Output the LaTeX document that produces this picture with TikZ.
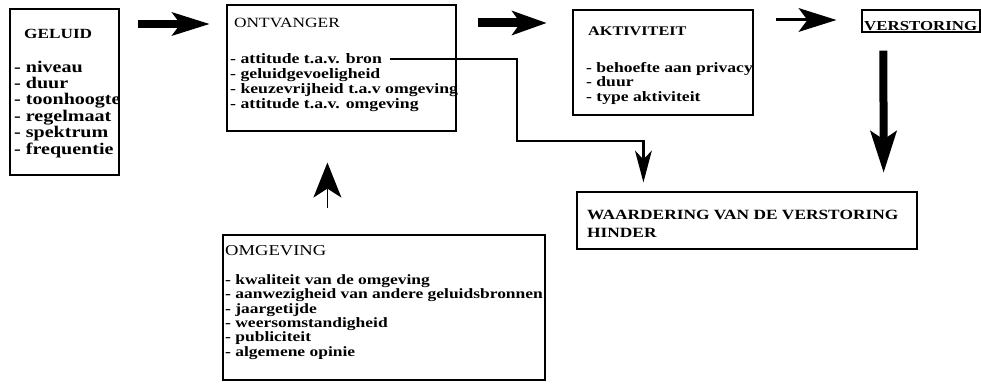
\documentclass[tikz,border=0pt]{standalone}
\usepackage{fontspec}
\setmainfont{Liberation Serif}[FakeStretch=1.23]
\usetikzlibrary{arrows.meta}
\newcommand{\firstline}[1]{\rule{0pt}{#1}}
\newcommand{\tightlines}{\lineskiplimit=-50pt\relax\lineskip=0pt\relax}
\begin{document}
\begin{tikzpicture}[x=1pt,y=-1pt,
  box/.style={draw, line width=1.2pt, rectangle, inner sep=0pt},
  txt/.style={anchor=base west, inner sep=0pt},
  block/.style={anchor=north west, inner sep=0pt, align=left},
  fatarrow/.style={line width=#1, -{Stealth[length=38pt,width=24pt,inset=9pt,line width=0pt]}},
  conn/.style={line width=2.5pt, -{Stealth[length=32pt,width=17pt,inset=9pt,line width=0pt]}},
]
\useasboundingbox (0,0) rectangle (981,390);

% boxes
\node[box, minimum width=109pt, minimum height=166pt] (geluid) at (64.5,92) {};
\node[box, minimum width=229pt, minimum height=126pt] (ontv) at (341.5,68) {};
\node[box, minimum width=180pt, minimum height=105pt] (akt) at (663,62.5) {};
\node[box, minimum width=118pt, minimum height=22pt] (verst) at (921,21) {};
\node[box, minimum width=340pt, minimum height=57pt] (waard) at (747,220.5) {};
\node[box, minimum width=322pt, minimum height=145pt] (omg) at (384,307.5) {};

% GELUID
\node[txt, font={\fontsize{14}{15}\selectfont\bfseries}] (gt) at (24,38.5) {GELUID};
\node[block, font={\fontsize{16.3}{16.4}\selectfont\bfseries\tightlines}] (gitems) at (14,60)
  {\firstline{12pt}- niveau\\- duur\\- toonhoogte\\- regelmaat\\- spektrum\\- frequentie};

% ONTVANGER
\node[txt, font={\fontsize{14.1}{15}\selectfont}] (ot) at (234,27.5) {ONTVANGER};
\node[block, font={\fontsize{14.4}{15}\selectfont\bfseries\tightlines}] (oitems) at (230,51)
  {\firstline{12pt}- attitude t.a.v. bron\\- geluidgevoeligheid\\- keuzevrijheid t.a.v omgeving\\- attitude t.a.v. omgeving};

% AKTIVITEIT
\node[txt, font={\fontsize{13.2}{14}\selectfont\bfseries}] (at) at (588,35.5) {AKTIVITEIT};
\node[block, font={\fontsize{14.3}{14.8}\selectfont\bfseries\tightlines}] (aitems) at (586,60)
  {\firstline{12pt}- behoefte aan privacy\\- duur\\- type aktiviteit};

% VERSTORING
\node[txt, font={\fontsize{13.7}{14}\selectfont\bfseries}] (vt) at (864,31) {VERSTORING};

% WAARDERING
\node[block, font={\fontsize{14.1}{18}\selectfont\bfseries\tightlines}] (wtxt) at (587,207)
  {\firstline{12pt}WAARDERING VAN DE VERSTORING\\HINDER};

% OMGEVING
\node[txt, font={\fontsize{15.1}{16}\selectfont}] (mt) at (225,255.5) {OMGEVING};
\node[block, font={\fontsize{14.2}{14.4}\selectfont\bfseries\tightlines}] (mitems) at (225,272)
  {\firstline{12pt}- kwaliteit van de omgeving\\- aanwezigheid van andere geluidsbronnen\\- jaargetijde\\- weersomstandigheid\\- publiciteit\\- algemene opinie};

% arrows
\draw[fatarrow=8pt] ([xshift=18pt]geluid.east |- 0,24) -- ([xshift=-17pt]ontv.west |- 0,24);
\draw[line width=9pt, -{Stealth[length=35pt,width=25pt,inset=9pt,line width=0pt]}]
  ([xshift=21pt]ontv.east |- 0,23) -- ([xshift=-26pt]akt.west |- 0,23);
\draw[fatarrow=3pt] ([xshift=22pt]akt.east |- 0,20) -- ([xshift=-25pt]verst.west |- 0,20);
\draw[line width=8pt, -{Stealth[length=42pt,width=27pt,inset=9pt,line width=0pt]}]
  ([xshift=22pt,yshift=-18pt]verst.south west) -- ([xshift=-34pt,yshift=19pt]waard.north east);
\draw[line width=1pt, -{Stealth[length=35pt,width=28pt,inset=9pt,line width=0pt]}]
  ([xshift=105pt,yshift=26pt]omg.north west) -- ([xshift=101pt,yshift=-31pt]ontv.south west);
\draw[conn] ([xshift=160pt,yshift=-8pt]oitems.north west) -| (517,141) -| ([xshift=67pt,yshift=9pt]waard.north west);
\end{tikzpicture}
\end{document}
